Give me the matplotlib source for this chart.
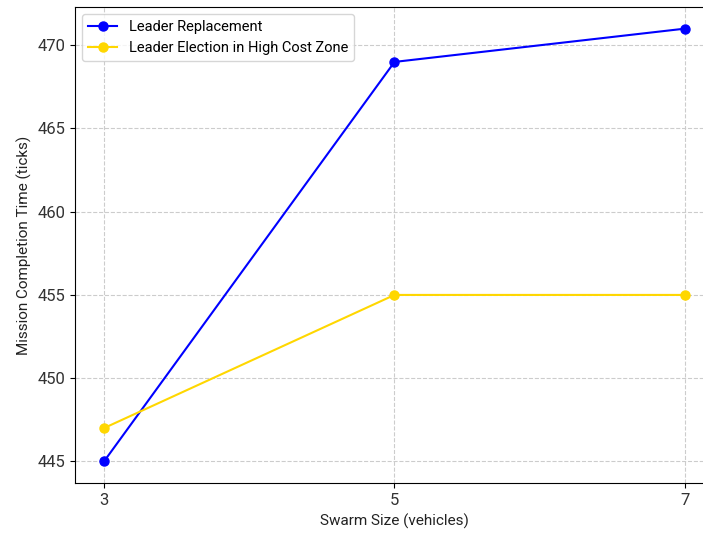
import matplotlib
matplotlib.use("Agg")
import matplotlib.pyplot as plt

swarm_sizes = [3, 5, 7]
leader_replacement = [445, 469, 471]
leader_election_high_cost = [447, 455, 455]

plt.rcParams['font.family'] = ['Roboto', 'DejaVu Sans']

fig = plt.figure(figsize=(7.03, 5.34), dpi=100)
ax = fig.add_axes([75 / 703, 51 / 534, 639 / 703, 476 / 534])

ax.plot(swarm_sizes, leader_replacement, marker='o', color='#0000ff',
        linewidth=1.5, markersize=6.5, label='Leader Replacement')
ax.plot(swarm_sizes, leader_election_high_cost, marker='o', color='#ffd700',
        linewidth=1.5, markersize=6.5, label='Leader Election in High Cost Zone')

ax.set_xticks(swarm_sizes)
ax.set_xlabel('Swarm Size (vehicles)', fontsize=11, color='#222222')
ax.set_ylabel('Mission Completion Time (ticks)', fontsize=11, color='#222222')
ax.tick_params(labelsize=12, labelcolor='#333333')
ax.grid(True, linestyle='--', color='#cccccc', linewidth=0.8)
ax.legend(loc='upper left', fontsize=10.5)

fig.savefig('out.png', dpi=100)
